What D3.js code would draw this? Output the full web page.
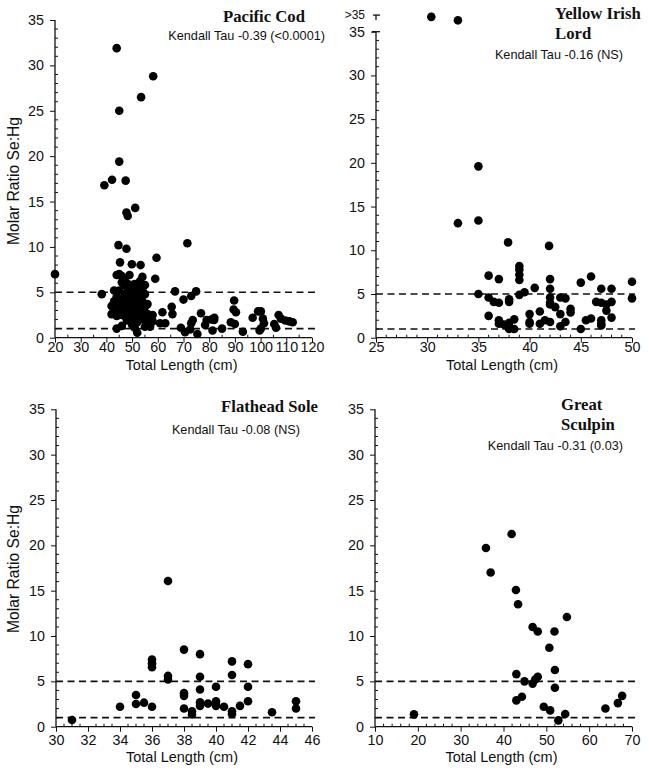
<!DOCTYPE html>
<html><head><meta charset="utf-8">
<script src="https://cdn.jsdelivr.net/npm/d3@7"></script>
<style>body{margin:0;background:#fff} svg{display:block}</style>
</head><body><svg id="c" width="649" height="774"></svg>
<script>
// ---- data: [total length (cm), molar ratio Se:Hg] ----
const codPoints = [
 [20,7.0],[38.2,4.8],[39.2,16.8],[42.2,17.4],[44,31.9],[45,25],[45,19.4],[47.5,17.3],[47.8,13.8],[48.3,13.4],
 [51.2,14.3],[53.5,26.5],[58.2,28.8],[44.7,10.2],[47.8,9.8],[45.3,8.3],[49.9,8.1],[53.3,8.0],[59.5,8.8],[59,6.5],[71.5,10.4],
 [42,3.5],[42,2.6],[43,5.2],[43,3.0],[43,2.7],[43,4.0],[43,3.7],
 [44,2.4],[44,1.0],[44,4.5],[44,2.9],[44,6.9],
 [45,3.2],[45,2.5],[45,5.2],[45,7.0],[45,4.2],
 [46,2.6],[46,3.9],[46,6.1],[46,6.8],[46,1.3],
 [47,3.0],[47,5.8],[47,4.6],[47,6.5],[47,2.4],
 [48,5.0],[48,4.5],[48,3.2],[48,1.9],[48,6.0],[48,3.5],
 [49,5.4],[49,2.8],[49,4.0],[49,6.9],[49,4.7],
 [50,5.8],[50,3.6],[50,2.2],[50,1.4],[50,4.3],
 [51,5.9],[51,3.1],[51,2.0],[51,4.9],[51,1.1],
 [52,5.5],[52,3.9],[52,2.7],[52,0.55],[52,4.6],[52,1.7],
 [53,6.2],[53,4.2],[53,3.3],[53,2.4],[53,5.0],
 [54,6.7],[54,5.4],[54,3.0],[54,2.0],[54,4.0],
 [55,5.8],[55,4.8],[55,3.4],[55,2.3],[55,1.2],
 [56,2.6],[56,2.0],[56,3.7],[56,1.6],
 [57,2.3],[57,1.9],[57,1.2],[58,2.5],[58,1.8],
 [66.7,5.1],[70,4.2],[73,4.6],[74.9,5.1],[65.4,3.4],[65.7,2.6],[61.8,2.8],[60.9,1.6],[62.9,1.6],[69,1.1],
 [70.6,0.6],[72.6,0.9],[73,1.6],[73.6,1.95],[75.4,0.4],[76.8,2.7],[78.4,1.4],[79,1.95],[80.8,2.0],[81.9,1.95],
 [81.3,0.8],[82,2.2],[85,1.0],[89.7,4.1],[89.5,3.1],[90.4,2.8],[88.4,1.7],[90,1.5],[93.1,0.66],[96.9,2.2],
 [99,2.9],[100.1,2.9],[100.9,2.1],[101.3,1.6],[99.6,0.8],[100.1,1.0],[105.3,1.5],[106,1.1],[107,2.5],[107.9,2.1],
 [109.6,1.9],[111.2,1.8],[112.5,1.7]
];
// the two ">35" fish are plotted on the break band above 35
const lordPoints = [
 [30.4,36.7],[33,36.3],[35,19.6],[35,13.4],[33,13.1],[37.9,10.9],[41.9,10.5],[35,5.0],
 [36,7.1],[36,4.6],[36,2.5],[36.5,4.1],[37,6.7],[37,4.0],[37,2.0],[37,1.6],[37.5,1.5],
 [38,4.4],[38,4.1],[38,1.7],[38,1.2],[38,1.0],[38.5,2.1],[38.5,1.0],
 [39,8.2],[39,7.8],[39,7.2],[39,6.6],[39,4.9],[39.5,5.2],
 [40,2.7],[40,1.8],[40,1.6],[40.5,5.7],[41,3.0],[41,1.6],[41.5,2.0],
 [42,6.7],[42,5.6],[42,4.6],[42,4.0],[42,3.8],[42,1.8],[42.5,3.5],
 [43,4.6],[43,2.7],[43,1.3],[43.5,4.5],[43.5,1.8],[44,3.3],[44,2.9],
 [45,6.3],[45,1.0],[45.5,2.0],[46,7.0],[46,2.2],[46.5,4.1],
 [47,5.6],[47,4.0],[47,2.0],[47,1.6],[47,1.4],[47.5,3.8],[47.5,3.1],
 [48,5.6],[48,4.1],[48,2.3],[50,6.4],[50,4.5]
];
const solePoints = [
 [31,0.74],[34,2.2],[35,3.5],[35,2.5],[35.5,2.65],[36,2.2],[36,7.4],[36,7.0],[36,6.55],
 [37,16.07],[37,5.6],[37,5.2],[38,8.5],[38,3.7],[38,3.4],[38,2.0],[38.5,1.7],[38.5,1.35],
 [39,8.0],[39,5.5],[39,4.1],[39,2.7],[39,2.3],[39.5,2.55],[40,4.4],[40,2.8],[40,2.5],[40,2.3],
 [40.5,2.2],[41,7.2],[41,5.7],[41,1.7],[41,1.4],[41.5,2.3],[42,6.9],[42,4.4],[42,2.8],
 [43.5,1.6],[45,2.8],[45,2.0]
];
const sculpinPoints = [
 [19.1,1.36],[35.9,19.7],[37,17.0],[41.9,21.25],[42.9,15.07],[43.4,13.5],[46.8,11.0],[48,10.5],
 [51.9,10.5],[54.8,12.1],[50.7,8.7],[52,6.25],[52,4.3],[43,5.8],[44.9,5.0],[46.8,4.75],[47.4,5.2],
 [48,5.5],[43,2.9],[44.3,3.3],[49.4,2.2],[50.9,1.8],[52.8,0.7],[54.4,1.4],[63.8,2.0],[66.7,2.6],[67.7,3.4]
];
const yTicks = [0,5,10,15,20,25,30,35];
const codXTicks = [20,30,40,50,60,70,80,90,100,110,120];
const lordXTicks = [25,30,35,40,45,50];
const soleXTicks = [30,32,34,36,38,40,42,44,46];
const sculpinXTicks = [10,20,30,40,50,60,70];
const refLines = [1,5];
const titles = [["Pacific Cod"],["Yellow Irish","Lord"],["Flathead Sole"],["Great","Sculpin"]];
const stats = ["Kendall Tau -0.39 (<0.0001)","Kendall Tau -0.16 (NS)","Kendall Tau -0.08 (NS)","Kendall Tau -0.31 (0.03)"];

// ---- layout ----
const panels = [
 {pts:codPoints, xt:codXTicks, minor:5, x0:55, x1:312, yb:337.7, yt:20, ylab:true,
  title:{x:305,y:22,anchor:"end"}, stat:{x:325,y:40}, xlabY:370, ylabY:181, tickY:352},
 {pts:lordPoints, xt:lordXTicks, minor:1, x0:376, x1:632, yb:337.7, yt:31.7, ylab:false, brk:true,
  title:{x:555,y:19,anchor:"start"}, stat:{x:623,y:59}, xlabY:370, tickY:352},
 {pts:solePoints, xt:soleXTicks, minor:0.5, x0:56, x1:312, yb:726.7, yt:409.3, ylab:true,
  title:{x:318,y:412,anchor:"end"}, stat:{x:300,y:434}, xlabY:762, ylabY:569, tickY:745},
 {pts:sculpinPoints, xt:sculpinXTicks, minor:2, x0:375, x1:632, yb:726.7, yt:409.3, ylab:false,
  title:{x:561,y:410,anchor:"start"}, stat:{x:623,y:450}, xlabY:762, tickY:745}
];

const svg = d3.select("#c");
svg.append("rect").attr("width",649).attr("height",774).attr("fill","#fff");
const sans = "Liberation Sans, Arial, sans-serif";
const serif = "Liberation Serif, Times New Roman, serif";

panels.forEach((p,i)=>{
  const xd = [p.xt[0], p.xt[p.xt.length-1]];
  const x = d3.scaleLinear().domain(xd).range([p.x0,p.x1]);
  const y = d3.scaleLinear().domain([0,35]).range([p.yb,p.yt]);
  const g = svg.append("g");

  // reference dashed lines
  refLines.forEach(v=>{
    g.append("line").attr("x1",p.x0).attr("x2",p.x1+3).attr("y1",y(v)).attr("y2",y(v))
     .attr("stroke","#111").attr("stroke-width",1.6).attr("stroke-dasharray","7,4.5");
  });

  // y axis
  const ya = g.append("g").attr("transform",`translate(${p.x0},0)`)
    .call(d3.axisLeft(y).tickValues(yTicks).tickSize(5).tickPadding(6).tickFormat(d3.format("d")));
  ya.select(".domain").remove();
  ya.selectAll("text").attr("font-family",sans).attr("font-size",14.3).attr("fill","#111");
  ya.selectAll("line").attr("stroke","#111");
  const yMinor = d3.range(0,35.01,1).filter(v=>v%5!==0);
  g.selectAll(null).data(yMinor).enter().append("line")
    .attr("x1",p.x0).attr("x2",p.x0+3).attr("y1",d=>y(d)).attr("y2",d=>y(d)).attr("stroke","#111");
  g.append("line").attr("x1",p.x0).attr("x2",p.x0).attr("y1",p.yb).attr("y2",p.yt)
    .attr("stroke","#111").attr("stroke-width",1.3);
  if(p.brk){
    const yb = y(36.9);
    g.append("line").attr("x1",p.x0-3).attr("x2",p.x0+4).attr("y1",yb).attr("y2",yb).attr("stroke","#111").attr("stroke-width",1.3);
    g.append("line").attr("x1",p.x0).attr("x2",p.x0).attr("y1",yb).attr("y2",yb+5).attr("stroke","#111").attr("stroke-width",1.3);
    g.append("line").attr("x1",p.x0-4).attr("x2",p.x0+4).attr("y1",y(35)).attr("y2",y(35)).attr("stroke","#111").attr("stroke-width",1.3);
    g.append("text").attr("x",p.x0-11).attr("y",yb+4).attr("text-anchor","end")
     .attr("font-family",sans).attr("font-size",12).attr("fill","#111").text(">35");
  }

  // x axis
  const xa = g.append("g").attr("transform",`translate(0,${p.yb})`)
    .call(d3.axisBottom(x).tickValues(p.xt).tickSize(5).tickPadding(4).tickFormat(d3.format("d")));
  xa.select(".domain").remove();
  xa.selectAll("text").attr("font-family",sans).attr("font-size",14.3).attr("fill","#111")
    .attr("dy",null).attr("y",p.tickY-p.yb);
  xa.selectAll("line").attr("stroke","#111");
  const xMinor = d3.range(xd[0],xd[1]+1e-6,p.minor).filter(v=>!p.xt.some(t=>Math.abs(t-v)<1e-6));
  g.selectAll(null).data(xMinor).enter().append("line")
    .attr("x1",d=>x(d)).attr("x2",d=>x(d)).attr("y1",p.yb).attr("y2",p.yb-3).attr("stroke","#111");
  g.append("line").attr("x1",p.x0).attr("x2",p.x1).attr("y1",p.yb).attr("y2",p.yb)
    .attr("stroke","#111").attr("stroke-width",1.3);

  // points
  g.selectAll("circle").data(p.pts).enter().append("circle")
    .attr("cx",d=>x(d[0])).attr("cy",d=>y(d[1])).attr("r",4.3).attr("fill","#000");

  // labels
  g.append("text").attr("x",(p.x0+p.x1)/2 - 2).attr("y",p.xlabY).attr("text-anchor","middle")
    .attr("font-family",sans).attr("font-size",14.5).attr("fill","#111").text("Total Length (cm)");
  if(p.ylab){
    g.append("text").attr("transform",`translate(19,${p.ylabY}) rotate(-90)`).attr("text-anchor","middle")
     .attr("font-family",sans).attr("font-size",15.7).attr("fill","#111").text("Molar Ratio Se:Hg");
  }
  titles[i].forEach((t,k)=>{
    g.append("text").attr("x",p.title.x).attr("y",p.title.y+k*20).attr("text-anchor",p.title.anchor)
     .attr("font-family",serif).attr("font-weight","bold").attr("font-size",16.7).attr("fill","#111").text(t);
  });
  g.append("text").attr("x",p.stat.x).attr("y",p.stat.y).attr("text-anchor","end")
    .attr("font-family",sans).attr("font-size",12.7).attr("fill","#111").text(stats[i]);
});
</script></body></html>
